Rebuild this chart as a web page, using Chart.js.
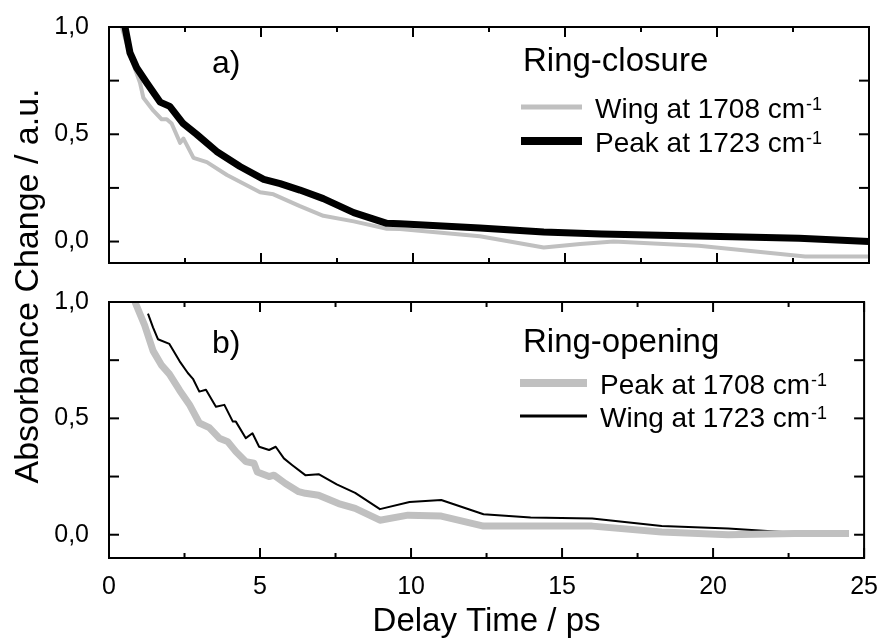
<!DOCTYPE html>
<html>
<head>
<meta charset="utf-8">
<script src="https://cdn.jsdelivr.net/npm/chart.js@4.4.1/dist/chart.umd.min.js"></script>
<style>
  html, body { margin: 0; padding: 0; background: #fff; }
  #wrap { position: relative; width: 884px; height: 638px; }
  #wrap canvas { position: absolute; left: 0; top: 0; }
</style>
</head>
<body>
<div id="wrap">
  <canvas id="opening" width="884" height="638"></canvas>
  <canvas id="closure" width="884" height="290"></canvas>
</div>
<script>
// ticks
const xMajor = [0, 5, 10, 15, 20, 25]
const xMinor = [2.5, 7.5, 12.5, 17.5, 22.5]
const yMajor = [0, 0.5, 1.0]
const yMinor = [0.25, 0.75]

// a) ring-closure
const closureWingT = [0.42, 0.69, 1.02, 1.13, 1.46, 1.73, 1.9, 2.06, 2.34, 2.45, 2.78, 3.22, 3.88, 4.97, 5.41, 6.28, 7.05, 8.05, 9.14, 9.57, 12.2, 14.3, 15.5, 16.6, 19.4, 22.9, 25.0]
const closureWingV = [1.0, 0.87, 0.74, 0.67, 0.61, 0.57, 0.57, 0.55, 0.46, 0.48, 0.39, 0.37, 0.31, 0.23, 0.22, 0.165, 0.12, 0.094, 0.06, 0.058, 0.025, -0.028, -0.011, 0.0, -0.02, -0.07, -0.07]
const closurePeakT = [0.5, 0.69, 0.91, 1.24, 1.68, 2.0, 2.44, 2.88, 3.54, 4.31, 5.09, 5.63, 6.28, 7.05, 8.05, 9.14, 9.57, 12.2, 14.3, 16.2, 18.5, 20.5, 22.7, 25.0]
const closurePeakV = [1.02, 0.88, 0.81, 0.74, 0.65, 0.63, 0.55, 0.50, 0.42, 0.35, 0.29, 0.27, 0.24, 0.20, 0.135, 0.085, 0.083, 0.063, 0.045, 0.035, 0.028, 0.022, 0.015, 0.0]

// b) ring-opening
const openingPeakT = [0.86, 1.18, 1.46, 1.73, 2.0, 2.34, 2.66, 2.99, 3.32, 3.65, 3.93, 4.2, 4.53, 4.8, 4.91, 5.3, 5.46, 5.84, 6.28, 6.5, 6.94, 7.6, 8.15, 8.97, 9.9, 11.0, 12.4, 16.0, 18.3, 20.5, 22.7, 24.5]
const openingPeakV = [1.0, 0.90, 0.79, 0.73, 0.69, 0.62, 0.56, 0.48, 0.46, 0.415, 0.40, 0.357, 0.314, 0.307, 0.27, 0.25, 0.256, 0.22, 0.185, 0.178, 0.17, 0.134, 0.113, 0.0625, 0.084, 0.08, 0.037, 0.037, 0.012, 0.0, 0.005, 0.005]
const openingWingT = [1.29, 1.46, 1.62, 2.0, 2.34, 2.61, 2.78, 2.99, 3.21, 3.54, 3.82, 4.1, 4.2, 4.53, 4.75, 4.97, 5.3, 5.52, 5.79, 6.06, 6.5, 6.94, 7.54, 8.15, 8.97, 9.95, 11.0, 12.4, 13.96, 16.0, 18.3, 20.5, 22.7, 24.5]
const openingWingV = [0.95, 0.89, 0.84, 0.82, 0.745, 0.695, 0.67, 0.615, 0.623, 0.55, 0.558, 0.486, 0.486, 0.415, 0.436, 0.378, 0.364, 0.378, 0.328, 0.30, 0.256, 0.26, 0.216, 0.18, 0.11, 0.141, 0.149, 0.088, 0.074, 0.07, 0.037, 0.027, 0.008, 0.005]

const FONT = "'Liberation Sans', Arial, sans-serif"
const GRAY = "#c0c0c0"

Chart.defaults.color = "#000"
Chart.defaults.font.family = FONT

const points = (ts, vs) => ts.map((t, i) => ({ x: t, y: vs[i] }))

// frame + inward ticks on all four sides
const framePlugin = {
  id: "frame",
  afterDatasetsDraw(chart) {
    const { ctx, chartArea: a, scales: { x, y } } = chart
    const seg = (x0, y0, x1, y1) => { ctx.beginPath(); ctx.moveTo(x0, y0); ctx.lineTo(x1, y1); ctx.stroke() }
    ctx.save()
    ctx.strokeStyle = "#000"
    ctx.lineWidth = 2
    ctx.strokeRect(a.left, a.top, a.right - a.left, a.bottom - a.top)
    const xTick = (v, len) => {
      const p = x.getPixelForValue(v)
      seg(p, a.bottom, p, a.bottom - len)
      seg(p, a.top, p, a.top + len)
    }
    const yTick = (v, len) => {
      const p = y.getPixelForValue(v)
      seg(a.left, p, a.left + len, p)
      seg(a.right, p, a.right - len, p)
    }
    xMajor.forEach(v => xTick(v, 10))
    xMinor.forEach(v => xTick(v, 5))
    yMajor.concat(yMinor).forEach(v => yTick(v, 10))
    ctx.restore()
  }
}

// panel tag, title, in-plot legend, shared y title
const panelPlugin = {
  id: "panel",
  afterDraw(chart, args, o) {
    const { ctx } = chart
    ctx.save()
    ctx.fillStyle = "#000"
    ctx.textBaseline = "alphabetic"
    ctx.textAlign = "left"
    ctx.font = `32px ${FONT}`
    ctx.fillText(o.tag, o.tagX, o.tagY)
    ctx.font = `33px ${FONT}`
    ctx.fillText(o.title, o.titleX, o.titleY)

    chart.data.datasets.forEach((ds, i) => {
      const y = o.legendY + i * o.rowGap
      ctx.strokeStyle = ds.borderColor
      ctx.lineWidth = ds.borderWidth + 1
      ctx.beginPath()
      ctx.moveTo(o.lineX0, y)
      ctx.lineTo(o.lineX1, y)
      ctx.stroke()
      const main = ds.label.replace("⁻¹", "")
      ctx.font = `28px ${FONT}`
      ctx.fillText(main, o.textX, y + 11)
      const w = ctx.measureText(main).width
      ctx.font = `18px ${FONT}`
      ctx.fillText("-1", o.textX + w + 1, y + 3)
    })

    if (o.yTitle) {
      ctx.translate(38, 286)
      ctx.rotate(-Math.PI / 2)
      ctx.textAlign = "center"
      ctx.font = `34px ${FONT}`
      ctx.fillText(o.yTitle, 0, 0)
    }
    ctx.restore()
  }
}

function scalesFor(showX, xHeight) {
  return {
    x: {
      type: "linear",
      min: 0,
      max: 25,
      grid: { display: false },
      border: { display: false },
      afterBuildTicks: s => { s.ticks = xMajor.map(v => ({ value: v })) },
      afterFit: s => { s.height = xHeight },
      ticks: { display: showX, font: { size: 25 }, padding: 6, maxRotation: 0 },
      title: {
        display: showX,
        text: "Delay Time / ps",
        font: { size: 33, lineHeight: 1 },
        padding: { top: 0, bottom: 0 }
      }
    },
    y: {
      type: "linear",
      min: -0.1,
      max: 1.0,
      grid: { display: false },
      border: { display: false },
      afterBuildTicks: s => { s.ticks = yMajor.map(v => ({ value: v })) },
      afterFit: s => { s.width = 109 },
      ticks: {
        font: { size: 25 },
        padding: 12,
        callback: v => v.toFixed(1).replace(".", ",")
      }
    }
  }
}

const line = (label, data, color, width, order) => ({
  label, data, order,
  borderColor: color,
  borderWidth: width,
  pointRadius: 0,
  tension: 0,
  fill: false,
  clip: 0,
  borderJoinStyle: "round"
})

new Chart(document.getElementById("closure"), {
  type: "line",
  data: {
    datasets: [
      line("Wing at 1708 cm⁻¹", points(closureWingT, closureWingV), GRAY, 4, 1),
      line("Peak at 1723 cm⁻¹", points(closurePeakT, closurePeakV), "#000", 7, 0)
    ]
  },
  options: {
    responsive: false,
    animation: false,
    layout: { padding: { top: 26, right: 15, bottom: 8, left: 0 } },
    scales: scalesFor(false, 0),
    plugins: {
      legend: { display: false },
      tooltip: { enabled: false },
      panel: {
        tag: "a)", tagX: 212, tagY: 73,
        title: "Ring-closure", titleX: 523, titleY: 71,
        legendY: 107, rowGap: 34, lineX0: 521, lineX1: 582, textX: 595
      }
    }
  },
  plugins: [framePlugin, panelPlugin]
})

new Chart(document.getElementById("opening"), {
  type: "line",
  data: {
    datasets: [
      line("Peak at 1708 cm⁻¹", points(openingPeakT, openingPeakV), GRAY, 7, 0),
      line("Wing at 1723 cm⁻¹", points(openingWingT, openingWingV), "#000", 2, 1)
    ]
  },
  options: {
    responsive: false,
    animation: false,
    layout: { padding: { top: 302, right: 15, bottom: 0, left: 0 } },
    scales: scalesFor(true, 80),
    plugins: {
      legend: { display: false },
      tooltip: { enabled: false },
      panel: {
        tag: "b)", tagX: 212, tagY: 353,
        title: "Ring-opening", titleX: 523, titleY: 352,
        legendY: 383, rowGap: 33, lineX0: 520, lineX1: 587, textX: 600,
        yTitle: "Absorbance Change / a.u."
      }
    }
  },
  plugins: [framePlugin, panelPlugin]
})
</script>
</body>
</html>
